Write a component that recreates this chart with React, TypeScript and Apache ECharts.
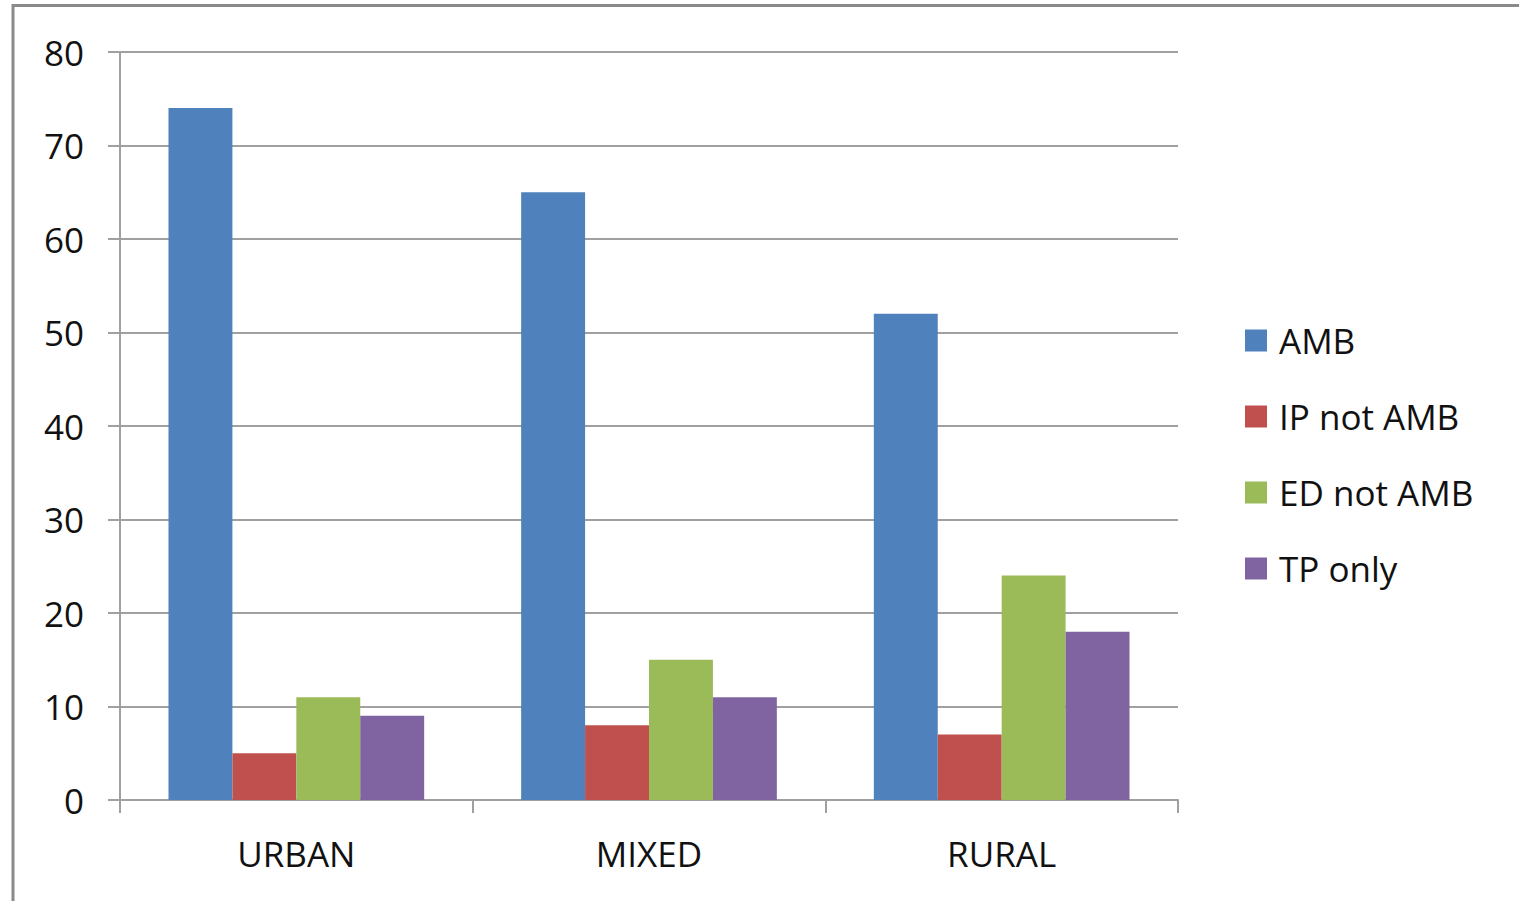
import React, { useEffect, useRef } from "react";
import * as echarts from "echarts";

const categories = ["URBAN", "MIXED", "RURAL"];
const seriesNames = ["AMB", "IP not AMB", "ED not AMB", "TP only"];
const amb = [74, 65, 52];
const ipNotAmb = [5, 8, 7];
const edNotAmb = [11, 15, 24];
const tpOnly = [9, 11, 18];
const colors = ["#4F81BD", "#C0504D", "#9BBB59", "#8064A2"];
const yMin = 0;
const yMax = 80;
const yInterval = 10;

export default function App() {
  const ref = useRef<HTMLDivElement>(null);
  useEffect(() => {
    if (!ref.current) return;
    const chart = echarts.init(ref.current, undefined, { renderer: "svg" });
    const font = "'Open Sans', 'Liberation Sans', sans-serif";
    const values = [amb, ipNotAmb, edNotAmb, tpOnly];
    chart.setOption({
      animation: false,
      backgroundColor: "#ffffff",
      color: colors,
      grid: { left: 120, right: 341, top: 52, bottom: 101, containLabel: false },
      legend: {
        orient: "vertical",
        left: 1245,
        top: 322,
        padding: 0,
        itemWidth: 22,
        itemHeight: 22,
        itemGap: 39,
        icon: "rect",
        data: seriesNames,
        textStyle: {
          fontFamily: font,
          fontSize: 35,
          color: "#111111",
          height: 37,
          lineHeight: 37,
          padding: [0, 0, 0, 7],
        },
      },
      xAxis: {
        type: "category",
        data: categories,
        boundaryGap: true,
        axisLine: { show: true, lineStyle: { color: "#a0a0a0", width: 2 } },
        axisTick: { show: true, length: 13, lineStyle: { color: "#a0a0a0", width: 2 } },
        axisLabel: { fontFamily: font, fontSize: 35, color: "#111111", margin: 36 },
      },
      yAxis: {
        type: "value",
        min: yMin,
        max: yMax,
        interval: yInterval,
        axisLine: { show: true, lineStyle: { color: "#a0a0a0", width: 2 } },
        axisTick: { show: true, length: 12, lineStyle: { color: "#a0a0a0", width: 2 } },
        splitLine: { show: true, lineStyle: { color: "#a0a0a0", width: 2 } },
        axisLabel: { fontFamily: font, fontSize: 35, color: "#111111", margin: 36 },
      },
      series: seriesNames.map((name, i) => ({
        name,
        type: "bar",
        data: values[i],
        barGap: "0%",
        barCategoryGap: "27.5%",
        itemStyle: { color: colors[i] },
      })),
      graphic: [
        {
          type: "line",
          shape: { x1: 13, y1: 4, x2: 13, y2: 901 },
          style: { stroke: "#8a8a8a", lineWidth: 3 },
          z: 100,
        },
        {
          type: "line",
          shape: { x1: 12, y1: 5.5, x2: 1519, y2: 5.5 },
          style: { stroke: "#8a8a8a", lineWidth: 3 },
          z: 100,
        },
      ],
    });
    return () => chart.dispose();
  }, []);
  return (
    <div
      ref={ref}
      style={{ position: "fixed", left: 0, top: 0, width: 1519, height: 901, background: "#fff" }}
    />
  );
}
